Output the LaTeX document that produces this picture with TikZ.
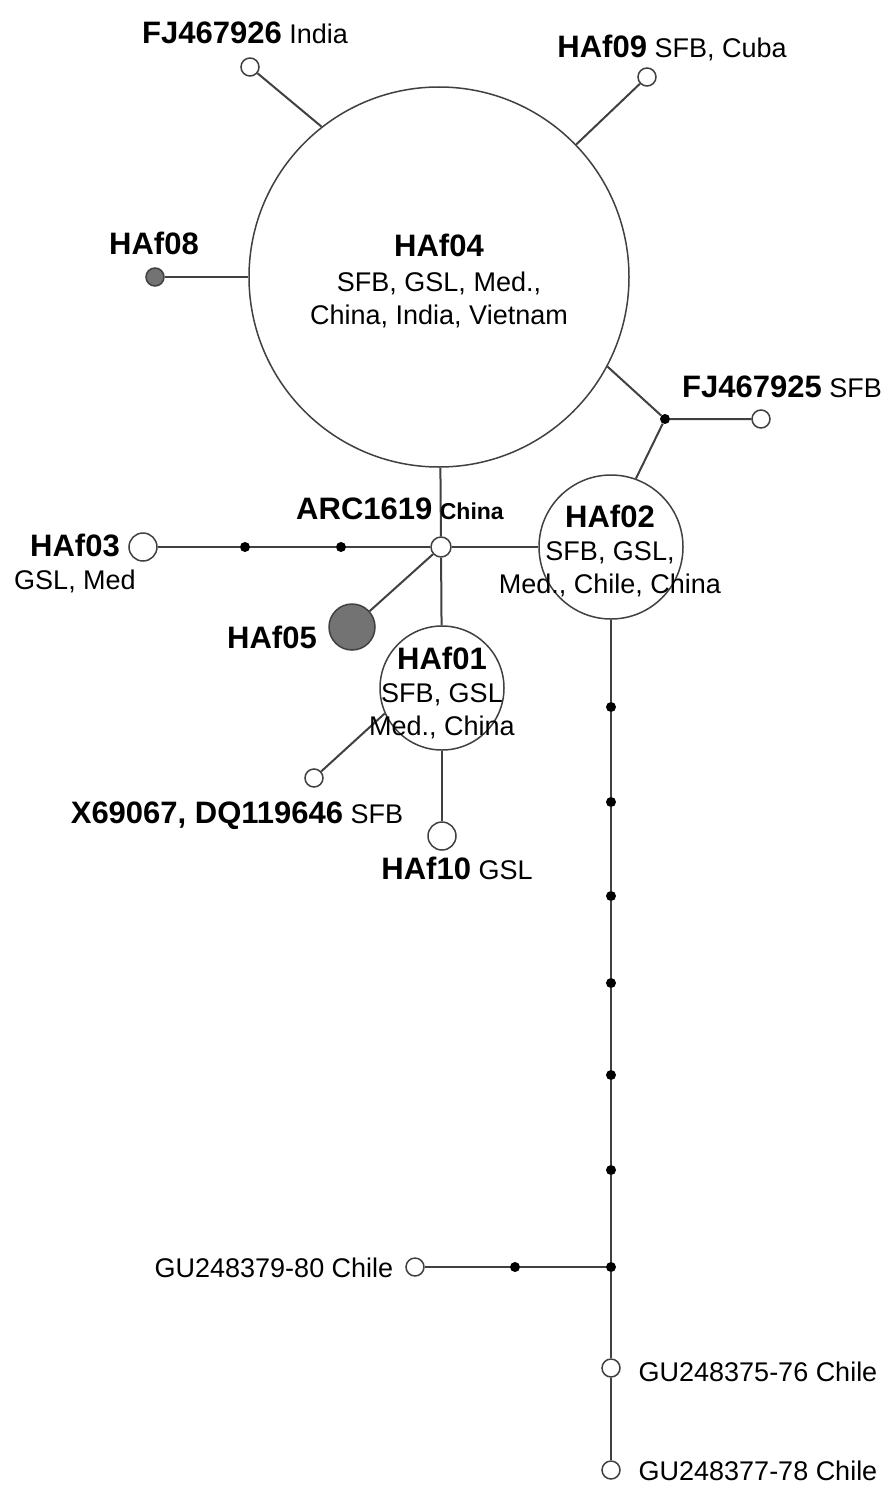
\documentclass[tikz,border=0pt]{standalone}
\usepackage{fontspec}
\setmainfont{Liberation Sans}
\usetikzlibrary{positioning}
\newcommand{\hname}[1]{{\fontsize{31}{33}\selectfont\bfseries #1}}

\begin{document}
\begin{tikzpicture}[
  x=1pt, y=-1pt,
  hap/.style={circle, draw=black!75, line width=1.5pt, fill=white, inner sep=0pt, minimum size=#1},
  ghap/.style={hap=#1, fill=black!55},
  mut/.style={circle, fill=black, inner sep=0pt, minimum size=10pt},
  lnk/.style={line width=2pt, black!75},
  lbl/.style={font=\fontsize{27}{33}\selectfont, inner sep=0pt, align=center}
]
\useasboundingbox (0,0) rectangle (887,1485);

\node[hap=380] (h04) at (439,277) {};
\node[hap=18]  (fj26) at (250,67) {};
\node[hap=18]  (h09) at (647,77) {};
\node[ghap=18] (h08) at (155,277) {};
\node[mut]     (m1) at (665,419) {};
\node[hap=18]  (fj25) at (761,419) {};
\node[hap=144] (h02) at (611,547) {};
\node[hap=20]  (arc) at (441,547) {};
\node[mut]     (m2) at (341,547) {};
\node[mut]     (m3) at (245,547) {};
\node[hap=28]  (h03) at (143,547) {};
\node[ghap=46] (h05) at (352,627) {};
\node[hap=124] (h01) at (442,688) {};
\node[hap=18]  (x69) at (314,778) {};
\node[hap=28]  (h10) at (442,836) {};
\foreach \y [count=\i] in {707,802,896,983,1075,1170,1267}
  \node[mut] (v\i) at (611,\y) {};
\node[mut]     (m4) at (515,1267) {};
\node[hap=18]  (gu79) at (415,1267) {};
\node[hap=18]  (gu75) at (611,1368) {};
\node[hap=18]  (gu77) at (611,1470) {};

\draw[lnk] (fj26) -- (h04.128);
\draw[lnk] (h09) -- (h04.44);
\draw[lnk] (h08) -- (h04);
\draw[lnk] (h04.332) -- (m1) -- (fj25);
\draw[lnk] (m1) -- (h02.70);
\draw[lnk] (h04) -- (arc);
\draw[lnk] (arc) -- (h02);
\draw[lnk] (arc) -- (m2) -- (m3) -- (h03);
\draw[lnk] (arc) -- (h05);
\draw[lnk] (arc) -- (h01);
\draw[lnk] (x69) -- (h01.204);
\draw[lnk] (h01) -- (h10);
\draw[lnk] (h02) -- (v1) -- (v2) -- (v3) -- (v4) -- (v5) -- (v6) -- (v7) -- (gu75) -- (gu77);
\draw[lnk] (v7) -- (m4) -- (gu79);

\node[lbl, anchor=base] (l26) at (245,44) {\hname{FJ467926} India};
\node[lbl, anchor=base] (l09) at (672,58) {\hname{HAf09} SFB, Cuba};
\node[lbl, anchor=base] (l08) at (154,254) {\hname{HAf08}};
\node[lbl, anchor=base] (l25) at (782,397) {\hname{FJ467925} SFB};
\node[lbl, anchor=base] (larc) at (400,519) {\hname{ARC1619} {\fontsize{23}{25}\selectfont\bfseries China}};
\node[lbl] (l03) at (75,563) {\hname{HAf03}\\GSL, Med};
\node[lbl, anchor=base] (l05) at (272,648) {\hname{HAf05}};
\node[lbl, anchor=base] (l69) at (237,823) {\hname{X69067, DQ119646} SFB};
\node[lbl, anchor=base] (l10) at (457,879) {\hname{HAf10} GSL};
\node[lbl, anchor=base] (l79) at (274,1277) {GU248379-80 Chile};
\node[lbl, anchor=base] (l75) at (758,1381) {GU248375-76 Chile};
\node[lbl, anchor=base] (l77) at (758,1480) {GU248377-78 Chile};

\node[lbl] (t04) at (439,281) {\hname{HAf04}\\[2pt]SFB, GSL, Med.,\\China, India, Vietnam};
\node[lbl] (t02) at (610,551) {\hname{HAf02}\\SFB, GSL,\\Med., Chile, China};
\node[lbl] (t01) at (442,693) {\hname{HAf01}\\SFB, GSL\\Med., China};
\end{tikzpicture}
\end{document}
